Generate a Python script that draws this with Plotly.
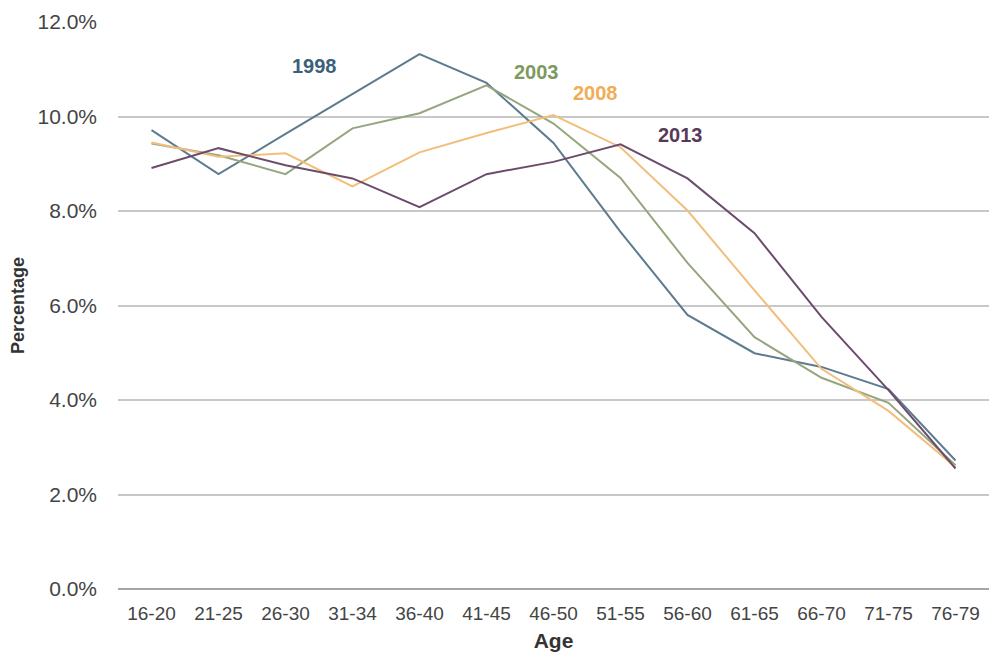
import plotly.graph_objects as go

# Age bands on the x axis
age_groups = ["16-20", "21-25", "26-30", "31-34", "36-40", "41-45", "46-50",
              "51-55", "56-60", "61-65", "66-70", "71-75", "76-79"]

# Share of each age band (%) per survey year
pct_1998 = [9.71, 8.78, 9.63, 10.47, 11.32, 10.71, 9.44, 7.56, 5.80, 4.99, 4.70, 4.23, 2.72]
pct_2003 = [9.43, 9.18, 8.78, 9.75, 10.07, 10.66, 9.85, 8.70, 6.90, 5.33, 4.47, 3.94, 2.62]
pct_2008 = [9.45, 9.15, 9.22, 8.52, 9.24, 9.65, 10.03, 9.35, 8.01, 6.32, 4.66, 3.77, 2.58]
pct_2013 = [8.91, 9.33, 8.97, 8.69, 8.08, 8.78, 9.04, 9.41, 8.69, 7.53, 5.76, 4.21, 2.55]

y_ticks = [0, 2, 4, 6, 8, 10, 12]
y_tick_text = ["0.0%", "2.0%", "4.0%", "6.0%", "8.0%", "10.0%", "12.0%"]

series = [
    ("1998", pct_1998, "#5d7b8f", "#3b6079", 2.43, 11.07),
    ("2003", pct_2003, "#95a67f", "#7d9a5e", 5.74, 10.94),
    ("2008", pct_2008, "#f2be7c", "#f0ad55", 6.62, 10.50),
    ("2013", pct_2013, "#6c4c6c", "#59395a", 7.90, 9.61),
]

FONT = "Arial, Liberation Sans, sans-serif"

fig = go.Figure()
for name, vals, line_col, _, _, _ in series:
    fig.add_trace(go.Scatter(
        x=age_groups, y=vals, mode="lines", name=name,
        line=dict(color=line_col, width=2), hoverinfo="skip",
    ))

for name, _, _, text_col, ax, ay in series:
    fig.add_annotation(
        x=ax, y=ay, xref="x", yref="y", text=f"<b>{name}</b>",
        showarrow=False, font=dict(family=FONT, size=20, color=text_col),
    )

fig.update_layout(
    width=989, height=652,
    margin=dict(l=118, r=0, t=22, b=63),
    paper_bgcolor="white", plot_bgcolor="white",
    showlegend=False,
    font=dict(family=FONT, color="#444444"),
)

fig.update_xaxes(
    type="category", range=[-0.5, 12.5],
    showgrid=False, showline=False, zeroline=False,
    tickfont=dict(family=FONT, size=19, color="#444444"),
    ticks="", ticklabelstandoff=11,
    title=dict(text="<b>Age</b>", font=dict(family=FONT, size=21, color="#333333"),
               standoff=11),
)

fig.update_yaxes(
    range=[0, 12], tickvals=y_ticks, ticktext=y_tick_text,
    showgrid=True, gridcolor="#c8c8c8", gridwidth=2,
    zeroline=True, zerolinecolor="#a6a6a6", zerolinewidth=2,
    showline=False, ticks="",
    tickfont=dict(family=FONT, size=21, color="#444444"),
    ticklabelstandoff=20,
    title=dict(text="<b>Percentage</b>", font=dict(family=FONT, size=18, color="#333333"),
               standoff=8),
)

fig.write_html("out.html")
